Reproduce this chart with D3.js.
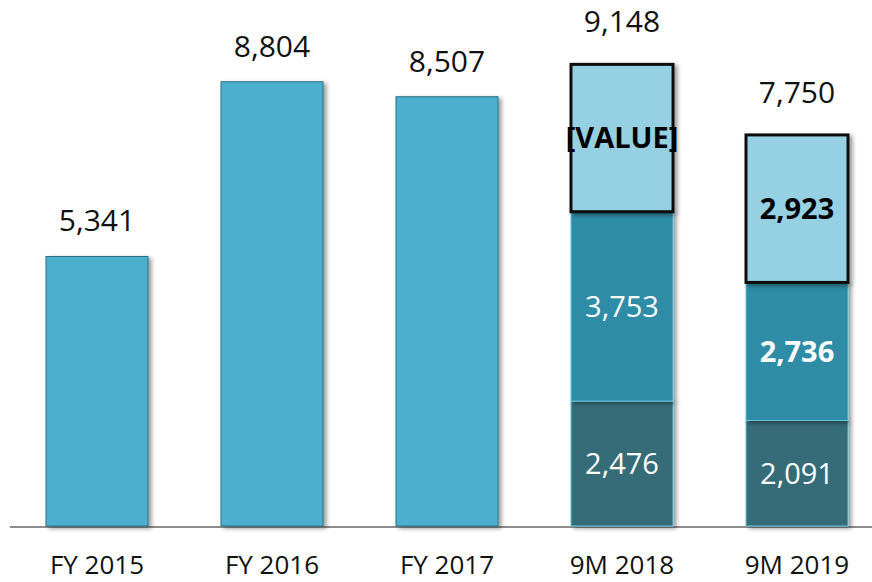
<!DOCTYPE html>
<html>
<head>
<meta charset="utf-8">
<script src="https://cdn.jsdelivr.net/npm/d3@7"></script>
<style>
  body { margin: 0; background: #fff; }
  text { font-family: "Open Sans", sans-serif; }
</style>
</head>
<body>
<div id="chart"></div>
<script>
// Data
const categories = ["FY 2015", "FY 2016", "FY 2017", "9M 2018", "9M 2019"];
const totals = [5341, 8804, 8507, 9148, 7750];
const stacked = [false, false, false, true, true];
const segBottom = [0, 0, 0, 2476, 2091];
const segMiddle = [0, 0, 0, 3753, 2736];
const segTop = [0, 0, 0, 2919, 2923];
const segTopLabels = ["", "", "", "[VALUE]", "2,923"];
const middleBold = [false, false, false, false, true];

const width = 872, height = 582;
const baseY = 526;

const svg = d3.select("#chart")
    .append("svg")
    .attr("width", width)
    .attr("height", height);

const defs = svg.append("defs");
const shadow = defs.append("filter")
    .attr("id", "shadow")
    .attr("x", "-20%").attr("y", "-10%")
    .attr("width", "150%").attr("height", "130%");
shadow.append("feDropShadow")
    .attr("dx", 3).attr("dy", 2)
    .attr("stdDeviation", 2)
    .attr("flood-color", "#000")
    .attr("flood-opacity", 0.4);

const x = d3.scaleBand()
    .domain(categories)
    .range([9.5, 884.5])
    .paddingInner(0.417)
    .paddingOuter(0.2085);

const y = d3.scaleLinear()
    .domain([0, 10000])
    .range([baseY, baseY - 504.6]);

const fmt = d3.format(",");

// baseline
svg.append("line")
    .attr("x1", 10).attr("x2", 872)
    .attr("y1", baseY + 1).attr("y2", baseY + 1)
    .attr("stroke", "#8c8c8c")
    .attr("stroke-width", 2);

const data = categories.map((c, i) => ({
    cat: c, total: totals[i], stacked: stacked[i],
    b: segBottom[i], m: segMiddle[i], t: segTop[i],
    tLabel: segTopLabels[i], mBold: middleBold[i]
}));

// simple bars
svg.selectAll(".bar")
    .data(data.filter(d => !d.stacked))
    .join("rect")
    .attr("class", "bar")
    .attr("x", d => x(d.cat))
    .attr("y", d => y(d.total))
    .attr("width", x.bandwidth())
    .attr("height", d => y(0) - y(d.total))
    .attr("fill", "#4bafcd")
    .attr("stroke", "#2b7285")
    .attr("stroke-width", 1)
    .attr("filter", "url(#shadow)");

// stacked bars
const st = data.filter(d => d.stacked);
const segs = [];
st.forEach(d => {
    segs.push({cat: d.cat, y0: 0, y1: d.b, fill: "#356c78", label: fmt(d.b), color: "#fff", bold: false, border: false});
    segs.push({cat: d.cat, y0: d.b, y1: d.b + d.m, fill: "#2e8ca6", label: fmt(d.m), color: "#fff", bold: d.mBold, border: false});
    segs.push({cat: d.cat, y0: d.b + d.m, y1: d.b + d.m + d.t, fill: "#95d1e3", label: d.tLabel, color: "#000", bold: true, border: true});
});

svg.selectAll(".seg")
    .data(segs)
    .join("rect")
    .attr("class", "seg")
    .attr("x", d => x(d.cat))
    .attr("y", d => y(d.y1))
    .attr("width", x.bandwidth())
    .attr("height", d => y(d.y0) - y(d.y1))
    .attr("fill", d => d.fill)
    .attr("stroke", d => d.border ? "#111" : "#6cc6de")
    .attr("stroke-width", d => d.border ? 3 : 1)
    .attr("filter", "url(#shadow)");

svg.selectAll(".seg-label")
    .data(segs)
    .join("text")
    .attr("class", "seg-label")
    .attr("x", d => x(d.cat) + x.bandwidth() / 2)
    .attr("y", d => (y(d.y0) + y(d.y1)) / 2)
    .attr("dy", "0.36em")
    .attr("text-anchor", "middle")
    .attr("font-size", 29)
    .attr("font-weight", d => d.bold ? "bold" : "normal")
    .attr("fill", d => d.color)
    .text(d => d.label);

// totals
svg.selectAll(".total")
    .data(data)
    .join("text")
    .attr("class", "total")
    .attr("x", d => x(d.cat) + x.bandwidth() / 2)
    .attr("y", d => y(d.total) - (d.stacked ? 32 : 25))
    .attr("text-anchor", "middle")
    .attr("font-size", 30)
    .attr("fill", "#111")
    .text(d => fmt(d.total));

// category labels
svg.selectAll(".cat")
    .data(categories)
    .join("text")
    .attr("class", "cat")
    .attr("x", d => x(d) + x.bandwidth() / 2)
    .attr("y", 574)
    .attr("text-anchor", "middle")
    .attr("font-size", 26)
    .attr("fill", "#111")
    .text(d => d);
</script>
</body>
</html>
